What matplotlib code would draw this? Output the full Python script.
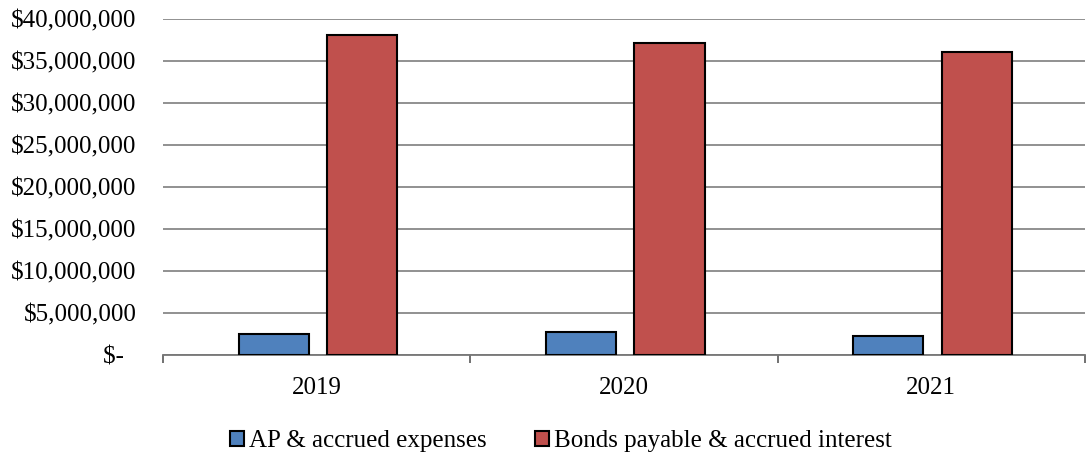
import matplotlib.pyplot as plt
import numpy as np
from matplotlib.ticker import FuncFormatter

years = ['2019', '2020', '2021']
ap_accrued = [2500000, 2750000, 2300000]
bonds_payable = [38100000, 37100000, 36100000]
series_names = ['AP & accrued expenses', 'Bonds payable & accrued interest']
blue = '#4F81BD'
red = '#C0504D'

plt.rcParams['font.family'] = ['Liberation Serif', 'DejaVu Serif']

fig = plt.figure(figsize=(10.88, 4.55), dpi=100)
ax = fig.add_axes([163 / 1088, 100 / 455, 922 / 1088, 336 / 455])

x = np.arange(len(years))
w = 0.228
ax.bar(x - 0.14, ap_accrued, w, color=blue, edgecolor='black', linewidth=1.5,
       label=series_names[0], zorder=3)
ax.bar(x + 0.148, bonds_payable, w, color=red, edgecolor='black', linewidth=1.5,
       label=series_names[1], zorder=3)

ax.set_xlim(-0.5, 2.5)
ax.set_ylim(0, 40000000)
ax.set_yticks(np.arange(0, 40000001, 5000000))

def money(v, pos):
    if v == 0:
        return '$-  '
    return '${:,.0f}'.format(v)

ax.yaxis.set_major_formatter(FuncFormatter(money))
ax.tick_params(axis='y', length=0, pad=19, labelsize=18)
ax.grid(axis='y', color='#888888', linewidth=1.3, zorder=0)

# category boundary ticks on x axis
ax.set_xticks([-0.5, 0.5, 1.5, 2.5])
ax.set_xticklabels([])
ax.set_xticks(x, minor=True)
ax.set_xticklabels(years, minor=True)
ax.tick_params(axis='x', which='major', length=6, width=1.3, color='#666666')
ax.tick_params(axis='x', which='minor', length=0, pad=16, labelsize=18)

for s in ['top', 'right', 'left']:
    ax.spines[s].set_visible(False)
ax.spines['bottom'].set_color('#777777')
ax.spines['bottom'].set_linewidth(1.3)

fig.legend(loc='center', bbox_to_anchor=(561 / 1088, 1 - 441 / 455), ncol=2,
           frameon=False, fontsize=18, handlelength=0.55, handleheight=0.55,
           handletextpad=0.2, columnspacing=1.95)

fig.savefig('out.png', dpi=100)
